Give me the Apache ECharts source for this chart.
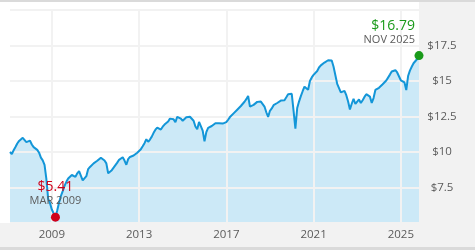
<!DOCTYPE html>
<html style="height: 100%">
   <head>
       <meta charset="utf-8">
   </head>
   <body style="height: 100%; margin: 0">
       <div id="container" style="width: 475px; height: 250px"></div>
       <script type="text/javascript" src="https://cdn.jsdelivr.net/npm/echarts@6/dist/echarts.min.js"></script>
       <script type="text/javascript">
// monthly prices, Feb 2007 .. Nov 2025
var startYear = 2007;
var startMonth = 1; // 0 = JAN
var prices = [
    10.0, 9.85, 10.12, 10.35, 10.6, 10.78, 10.92, 11.0, 11.07, 10.7,
    10.77, 10.8, 10.53, 10.34, 10.28, 10.15, 9.95, 9.6, 9.41, 9.1,
    8.1, 6.7, 6.4, 5.95, 5.85, 5.41, 5.9, 6.45, 6.9, 7.25,
    7.62, 7.9, 8.14, 8.27, 8.38, 8.45, 8.25, 8.5, 8.65, 8.55,
    8.0, 8.1, 8.3, 8.8, 8.95, 9.07, 9.2, 9.3, 9.38, 9.45,
    9.6, 9.55, 9.4, 9.2, 8.5, 8.6, 8.72, 8.9, 8.8, 9.25,
    9.45, 9.57, 9.63, 9.4, 9.1, 9.5, 9.65, 9.77, 9.75, 9.8,
    9.95, 10.05, 10.2, 10.4, 10.62, 10.9, 10.72, 10.88, 11.08, 11.35,
    11.57, 11.72, 11.72, 11.58, 11.78, 11.93, 12.0, 12.15, 12.35, 12.36,
    12.3, 12.1, 12.48, 12.55, 12.35, 12.2, 12.33, 12.45, 12.52, 12.48,
    12.43, 12.2, 11.8, 11.6, 12.12, 12.12, 11.5, 10.75, 11.4, 11.7,
    11.77, 11.83, 11.9, 12.03, 12.1, 12.03, 12.0, 12.0, 12.04, 12.1,
    12.27, 12.46, 12.58, 12.72, 12.85, 12.98, 13.11, 13.24, 13.37, 13.54,
    13.72, 13.95, 13.2, 13.25, 13.32, 13.45, 13.53, 13.53, 13.55, 13.6,
    13.2, 12.8, 12.47, 12.9, 13.07, 13.3, 13.42, 13.45, 13.58, 13.62,
    13.55, 13.65, 13.85, 14.07, 14.2, 14.1, 12.9, 11.65, 13.1, 13.55,
    13.93, 14.28, 14.6, 14.55, 14.38, 15.0, 15.25, 15.43, 15.55, 15.7,
    15.95, 16.1, 16.23, 16.3, 16.37, 16.46, 16.6, 16.45, 16.0, 15.4,
    14.8, 14.5, 14.2, 14.1, 14.3, 14.0, 13.55, 13.0, 13.4, 13.75,
    13.38, 13.55, 13.7, 13.45, 13.65, 13.88, 14.07, 14.0, 13.9, 13.45,
    13.8, 14.37, 14.44, 14.52, 14.65, 14.77, 14.9, 15.03, 15.16, 15.45,
    15.67, 15.75, 15.76, 15.6, 15.5, 15.05, 15.1, 14.9, 14.36, 15.35,
    15.73, 16.0, 16.25, 16.38, 16.55, 16.79
];
var tickYears = ['2009', '2013', '2017', '2021', '2025'];
var monthNames = ['JAN', 'FEB', 'MAR', 'APR', 'MAY', 'JUN', 'JUL', 'AUG', 'SEP', 'OCT', 'NOV', 'DEC'];

var months = [];
for (var i = 0; i < prices.length; i++) {
    var m = startMonth + i;
    months.push(monthNames[m % 12] + ' ' + (startYear + Math.floor(m / 12)));
}

var isTick = function (idx, value) {
    return value.slice(0, 3) === 'JAN' && tickYears.indexOf(value.slice(4)) >= 0;
};

var font = '"Open Sans", sans-serif';
var gray = '#5b5b5b';

var dom = document.getElementById("container");
var myChart = echarts.init(dom);
var option = {
    animation: false,
    backgroundColor: '#ffffff',
    textStyle: {fontFamily: font},
    graphic: [
        {type: 'rect', z: -10, shape: {x: 419, y: 0, width: 56, height: 250}, style: {fill: '#f2f2f2'}},
        {type: 'rect', z: -10, shape: {x: 0, y: 223, width: 475, height: 27}, style: {fill: '#f2f2f2'}},
        {type: 'rect', z: -9, shape: {x: 0, y: 0, width: 475, height: 2}, style: {fill: '#dadada'}},
        {type: 'rect', z: -9, shape: {x: 0, y: 247, width: 475, height: 3}, style: {fill: '#dadada'}}
    ],
    grid: {left: 10, right: 56, top: 10, bottom: 27},
    xAxis: {
        type: 'category',
        data: months,
        boundaryGap: false,
        axisLine: {show: false},
        axisTick: {show: false},
        axisLabel: {
            interval: isTick,
            formatter: function (v) { return v.slice(4); },
            color: gray,
            fontSize: 11.5,
            fontFamily: font,
            margin: 6
        },
        splitLine: {show: true, interval: isTick, lineStyle: {color: '#f2f2f2', width: 2}}
    },
    yAxis: {
        type: 'value',
        position: 'right',
        min: 5,
        max: 20,
        interval: 2.5,
        axisLine: {show: false},
        axisTick: {show: false},
        axisLabel: {
            showMinLabel: false,
            showMaxLabel: false,
            formatter: function (v) { return '$' + v; },
            align: 'center',
            margin: 23,
            color: gray,
            fontSize: 11.5,
            fontFamily: font
        },
        splitLine: {lineStyle: {color: '#f2f2f2', width: 2}}
    },
    series: [
        {
            // fill under the line, kept below the grid lines
            type: 'line',
            z: -1,
            data: prices,
            symbol: 'none',
            silent: true,
            lineStyle: {width: 0},
            areaStyle: {color: '#cce9f7', origin: 'start', opacity: 1}
        },
        {
            type: 'line',
            data: prices,
            symbol: 'none',
            lineStyle: {color: '#1396d8', width: 2},
            markPoint: {
                symbol: 'circle',
                symbolSize: 9,
                data: [
                    {
                        type: 'min',
                        itemStyle: {color: '#d0021b'},
                        label: {
                            position: 'top',
                            distance: 6,
                            formatter: function (p) {
                                return '{v|$' + p.value.toFixed(2) + '}\n{d|' + months[p.data.coord[0]] + '}';
                            },
                            rich: {
                                v: {color: '#d0021b', fontSize: 14, fontFamily: font, align: 'center', lineHeight: 16},
                                d: {color: gray, fontSize: 11, fontFamily: font, align: 'center', lineHeight: 12}
                            }
                        }
                    },
                    {
                        type: 'max',
                        itemStyle: {color: '#1a9a1a'},
                        label: {
                            position: 'top',
                            align: 'right',
                            offset: [-4, 0],
                            distance: 5,
                            formatter: function (p) {
                                return '{v|$' + p.value.toFixed(2) + '}\n{d|' + months[p.data.coord[0]] + '}';
                            },
                            rich: {
                                v: {color: '#1a9a1a', fontSize: 14, fontFamily: font, align: 'right', lineHeight: 16},
                                d: {color: gray, fontSize: 11, fontFamily: font, align: 'right', lineHeight: 12}
                            }
                        }
                    }
                ]
            }
        }
    ]
};
myChart.setOption(option, true);
       </script>
   </body>
</html>
